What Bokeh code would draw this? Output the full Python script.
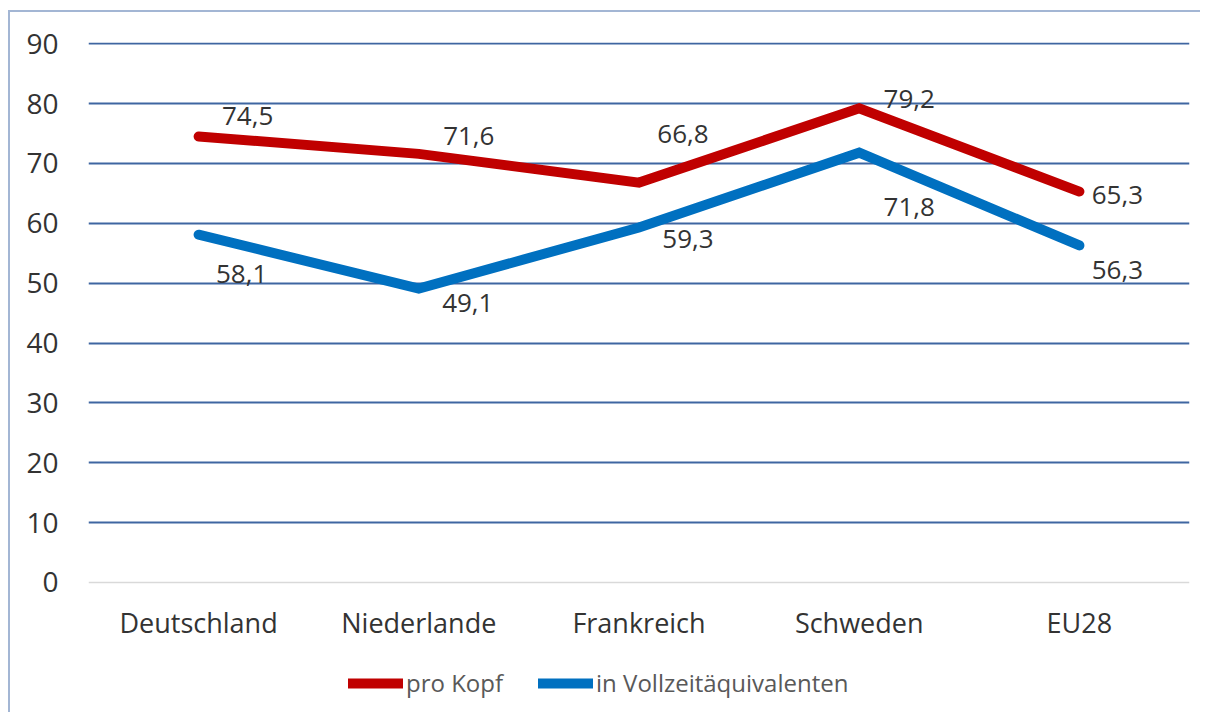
from bokeh.plotting import figure
from bokeh.models import Range1d, FixedTicker, Legend, LegendItem, ColumnDataSource
from bokeh.embed import file_html
from bokeh.resources import INLINE
from bokeh.core.properties import value

categories = ["Deutschland", "Niederlande", "Frankreich", "Schweden", "EU28"]
pro_kopf = [74.5, 71.6, 66.8, 79.2, 65.3]
vollzeit = [58.1, 49.1, 59.3, 71.8, 56.3]
y_ticks = [0, 10, 20, 30, 40, 50, 60, 70, 80, 90]

# label placement offsets (screen px): dx, dy (positive dy = up)
red_off = [(49, 20), (50, 18), (44, 49), (50, 9), (38, -3)]
blue_off = [(43, -39), (49, -14), (49, -12), (50, -54), (38, -25)]

RED = "#C00000"
BLUE = "#0070C0"
FONT = "Open Sans"

# frame reaches the bottom of the canvas; the category axis sits at y = 0
p = figure(width=1192, height=702, x_range=categories, y_range=Range1d(-22.05, 90.2),
           output_backend="svg", toolbar_location=None,
           min_border_left=78, min_border_right=13, min_border_top=30, min_border_bottom=0)
p.outline_line_color = None
p.background_fill_color = "white"
p.border_fill_color = "white"
p.styles = {"border-left": "2px solid #A3B6D4", "border-top": "2px solid #A3B6D4",
            "margin-left": "8px", "margin-top": "10px"}

# y axis
p.yaxis.ticker = FixedTicker(ticks=y_ticks)
p.yaxis.axis_line_color = None
p.yaxis.major_tick_line_color = None
p.yaxis.minor_tick_line_color = None
p.yaxis.major_tick_in = 0
p.yaxis.major_tick_out = 0
p.yaxis.major_label_standoff = 30
p.yaxis.major_label_text_font = FONT
p.yaxis.major_label_text_font_size = "28px"
p.yaxis.major_label_text_color = "#333333"

# x axis
p.xaxis.fixed_location = 0
p.xaxis.axis_line_color = "#D9D9D9"
p.xaxis.axis_line_width = 1.5
p.xaxis.major_tick_line_color = None
p.xaxis.major_tick_in = 0
p.xaxis.major_tick_out = 0
p.xaxis.major_label_standoff = 22
p.xaxis.major_label_text_font = FONT
p.xaxis.major_label_text_font_size = "27px"
p.xaxis.major_label_text_color = "#333333"

# grid
p.xgrid.grid_line_color = None
p.ygrid.ticker = FixedTicker(ticks=y_ticks[1:])
p.ygrid.grid_line_color = "#3F66A1"
p.ygrid.grid_line_width = 1.8

r1 = p.line(categories, pro_kopf, line_color=RED, line_width=10, line_cap="round", line_join="miter")
r2 = p.line(categories, vollzeit, line_color=BLUE, line_width=10, line_cap="round", line_join="miter")

def fmt(v):
    return f"{v:.1f}".replace(".", ",")

for vals, offs in ((pro_kopf, red_off), (vollzeit, blue_off)):
    src = ColumnDataSource(dict(
        x=categories, y=vals, t=[fmt(v) for v in vals],
        dx=[o[0] for o in offs], dy=[-o[1] for o in offs]))
    p.text(x="x", y="y", text="t", x_offset="dx", y_offset="dy", source=src,
           text_font=value(FONT), text_font_size="26px", text_color="#333333",
           text_align="center", text_baseline="middle")

legend = Legend(items=[LegendItem(label="pro Kopf", renderers=[r1]),
                       LegendItem(label="in Vollzeitäquivalenten", renderers=[r2])],
                orientation="horizontal", location=(260, 15),
                glyph_width=55, glyph_height=20, label_standoff=3, spacing=35,
                padding=0, margin=0, border_line_color=None, background_fill_alpha=0,
                label_text_font=FONT, label_text_font_size="24px", label_text_color="#595959")
p.add_layout(legend, "center")

open("out.html", "w").write(file_html(p, INLINE))
